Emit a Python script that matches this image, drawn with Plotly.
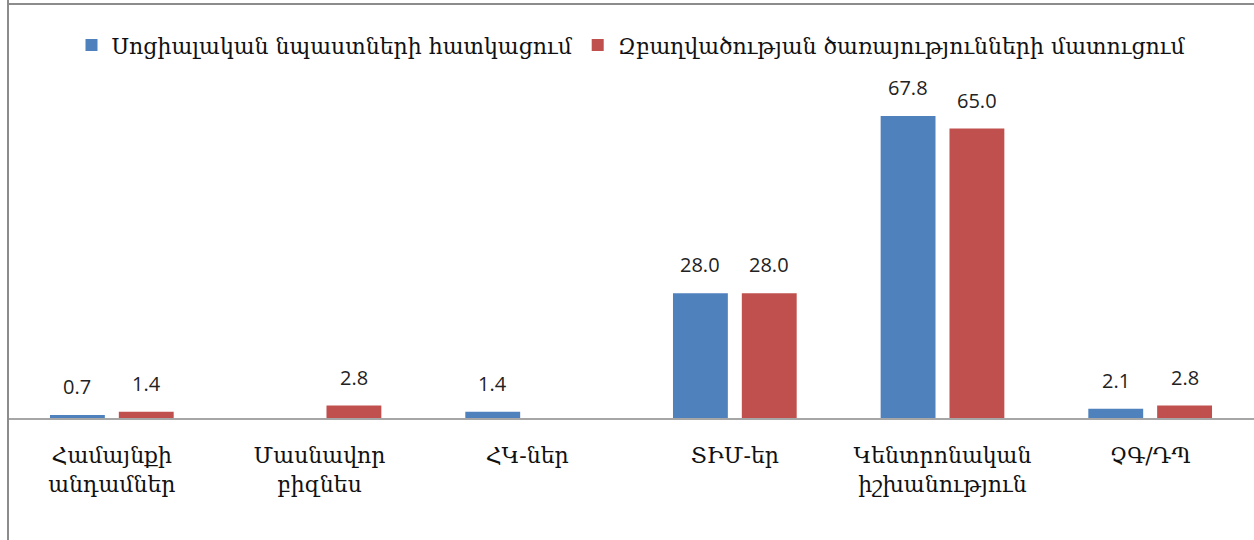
import plotly.graph_objects as go

categories = ["Համայնքի<br>անդամներ", "Մասնավոր<br>բիզնես", "ՀԿ-ներ",
              "ՏԻՄ-եր", "Կենտրոնական<br>իշխանություն", "ՉԳ/ԴՊ"]
social_values = [0.7, None, 1.4, 28.0, 67.8, 2.1]
service_values = [1.4, 2.8, None, 28.0, 65.0, 2.8]
series_names = ["Սոցիալական նպաստների հատկացում",
                "Զբաղվածության ծառայությունների մատուցում"]
colors = ["#4F81BD", "#C0504D"]

fig = go.Figure()
for name, vals, col in zip(series_names, [social_values, service_values], colors):
    fig.add_trace(go.Bar(x=categories, y=vals, name=name, marker_color=col,
                         marker_line_width=0))

# value labels above each bar
annotations = []
for vals, shift in [(social_values, -34.5), (service_values, 34.5)]:
    for cat, v in zip(categories, vals):
        if v is None:
            continue
        annotations.append(dict(x=cat, y=v, xref="x", yref="y", text=f"{v:.1f}",
                                showarrow=False, yanchor="bottom", xshift=shift,
                                yshift=13, font=dict(family="Open Sans", size=20,
                                                     color="#222222")))

fig.update_layout(
    width=1254, height=540,
    margin=dict(l=8, r=0, t=80, b=122),
    paper_bgcolor="white", plot_bgcolor="white",
    barmode="group", bargap=0.337, bargroupgap=0.203,
    showlegend=True,
    legend=dict(orientation="h", x=0.5, xanchor="center", y=0.955, yref="container",
                yanchor="top", font=dict(family="DejaVu Serif", size=22, color="#111111"),
                itemwidth=30, tracegroupgap=0, bgcolor="rgba(0,0,0,0)"),
    xaxis=dict(range=[-0.5, 5.5], domain=[0, 1.0], showline=True, linecolor="#A6A6A6",
               linewidth=2, ticks="", tickfont=dict(family="DejaVu Serif", size=22,
                                                  color="#111111"), ticklabelstandoff=17),
    yaxis=dict(range=[0, 75.9], visible=False),
    annotations=annotations,
    shapes=[
        dict(type="line", xref="paper", yref="paper", x0=0, x1=0, y0=-0.5, y1=1.3,
             line=dict(color="#8C8C8C", width=2)),
        dict(type="line", xref="paper", yref="paper", x0=0, x1=1.01, y0=1.225, y1=1.225,
             line=dict(color="#8C8C8C", width=2)),
    ],
)

fig.write_html("out.html")
